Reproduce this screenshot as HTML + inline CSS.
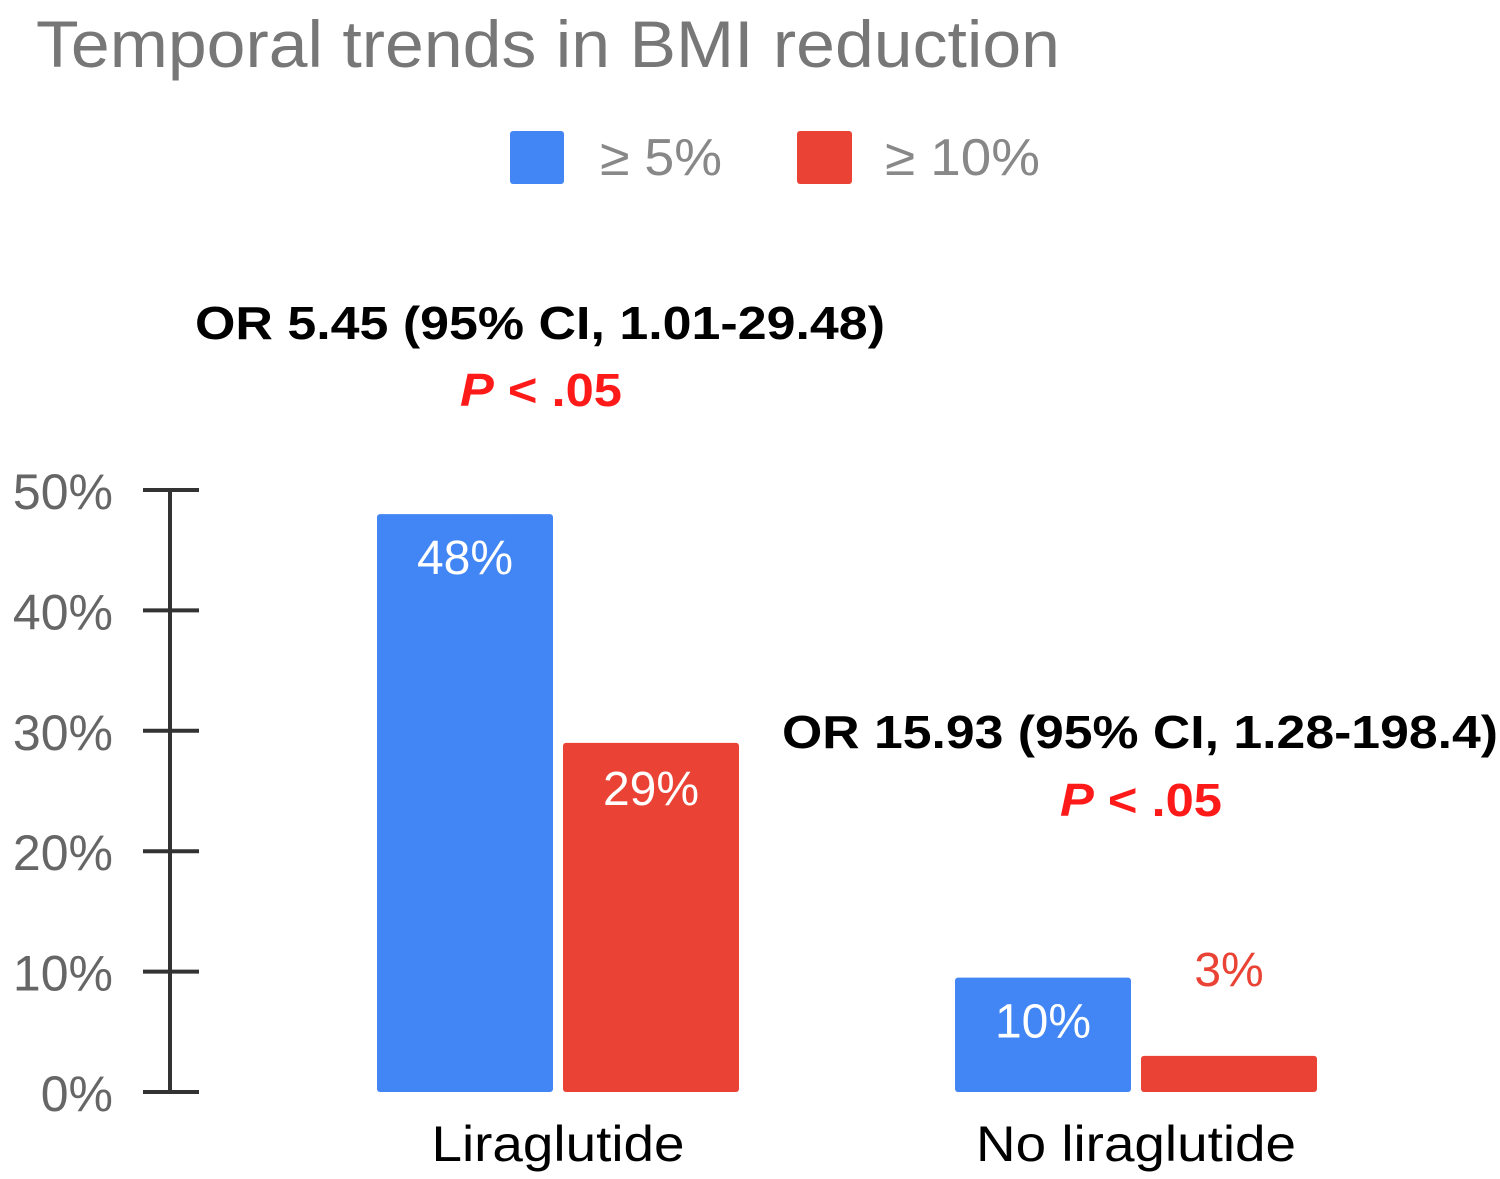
<!DOCTYPE html>
<html><head><meta charset="utf-8"><style>
html,body{margin:0;padding:0;background:#fff;}
svg{display:block;font-family:"Liberation Sans",Arial,sans-serif;}
</style></head><body>
<svg id="chart" width="1500" height="1179" viewBox="0 0 1500 1179">
<text x="36" y="67" font-size="66" fill="#777" textLength="1024" lengthAdjust="spacingAndGlyphs">Temporal trends in BMI reduction</text>
<g>
<rect x="510" y="131" width="54" height="53" rx="3" fill="#4285f4"/>
<text x="600" y="175" font-size="52" fill="#888" textLength="122" lengthAdjust="spacingAndGlyphs">≥ 5%</text>
<rect x="797" y="131" width="55" height="53" rx="3" fill="#ea4335"/>
<text x="885" y="175" font-size="52" fill="#888" textLength="155" lengthAdjust="spacingAndGlyphs">≥ 10%</text>
</g>
<g id="axis"></g>
<g id="bars"></g>
<g>
<text x="195" y="339" font-size="46" font-weight="bold" fill="#000" textLength="690" lengthAdjust="spacingAndGlyphs">OR 5.45 (95% CI, 1.01-29.48)</text>
<text x="460" y="406" font-size="46" font-weight="bold" fill="#ff1a1a" textLength="162" lengthAdjust="spacingAndGlyphs"><tspan font-style="italic">P</tspan> &lt; .05</text>
<text x="782" y="748" font-size="46" font-weight="bold" fill="#000" textLength="716" lengthAdjust="spacingAndGlyphs">OR 15.93 (95% CI, 1.28-198.4)</text>
<text x="1060" y="816" font-size="46" font-weight="bold" fill="#ff1a1a" textLength="162" lengthAdjust="spacingAndGlyphs"><tspan font-style="italic">P</tspan> &lt; .05</text>
</g>
</svg>
<script>
const categories = ["Liraglutide", "No liraglutide"];
const series5 = [48, 9.5];
const series10 = [29, 3];
const valueLabels5 = ["48%", "10%"];
const valueLabels10 = ["29%", "3%"];
const tickValues = [0, 10, 20, 30, 40, 50];
const tickLabels = ["0%", "10%", "20%", "30%", "40%", "50%"];

const NS = "http://www.w3.org/2000/svg";
const y0 = 1092, pxPer = 12.04;
function yScale(v){ return y0 - v * pxPer; }
const groupStart = [377, 955];
const barW = 176, gap = 10;
function mk(tag, attrs, parent){ const e = document.createElementNS(NS, tag); for (const k in attrs) e.setAttribute(k, attrs[k]); parent.appendChild(e); return e; }

const axis = document.getElementById("axis");
const axLine = mk("line", {x1:170, x2:170, y1:yScale(50), y2:yScale(0), stroke:"#333", "stroke-width":4}, axis);


tickValues.forEach((v, i) => {
  const t = mk("line", {x1:143, x2:199, y1:yScale(v), y2:yScale(v), stroke:"#333", "stroke-width":4}, axis);
  
  
  const l = mk("text", {x:113, y:yScale(v)+19, "font-size":50, fill:"#666", "text-anchor":"end"}, axis);
  l.textContent = tickLabels[i];
  
  
});

const bars = document.getElementById("bars");
const catWidths = [253, 320];
categories.forEach((c, i) => {
  const x1 = groupStart[i], x2 = x1 + barW + gap;
  const b1 = mk("rect", {x:x1, y:yScale(series5[i]), width:barW, height:y0 - yScale(series5[i]), rx:3, fill:"#4285f4"}, bars);
  
  
  const b2 = mk("rect", {x:x2, y:yScale(series10[i]), width:barW, height:y0 - yScale(series10[i]), rx:3, fill:"#ea4335"}, bars);
  
  
  const l1 = mk("text", {x:x1+barW/2, y: yScale(series5[i]) + 60, "font-size":48, fill:"#fff", "text-anchor":"middle"}, bars);
  l1.textContent = valueLabels5[i];
  
  
  const h2 = y0 - yScale(series10[i]);
  const inside2 = h2 > 70;
  const l2 = mk("text", {x:x2+barW/2, y: inside2 ? yScale(series10[i]) + 62 : yScale(series10[i]) - 70, "font-size":48, fill: inside2 ? "#fff" : "#ea4335", "text-anchor":"middle"}, bars);
  l2.textContent = valueLabels10[i];
  
  
  const cx = x1 + barW + gap/2;
  const cl = mk("text", {x:cx - catWidths[i]/2, y:1161, "font-size":50, fill:"#000", textLength:catWidths[i], lengthAdjust:"spacingAndGlyphs"}, bars);
  cl.textContent = c;
  
  
});
</script>
</body></html>
